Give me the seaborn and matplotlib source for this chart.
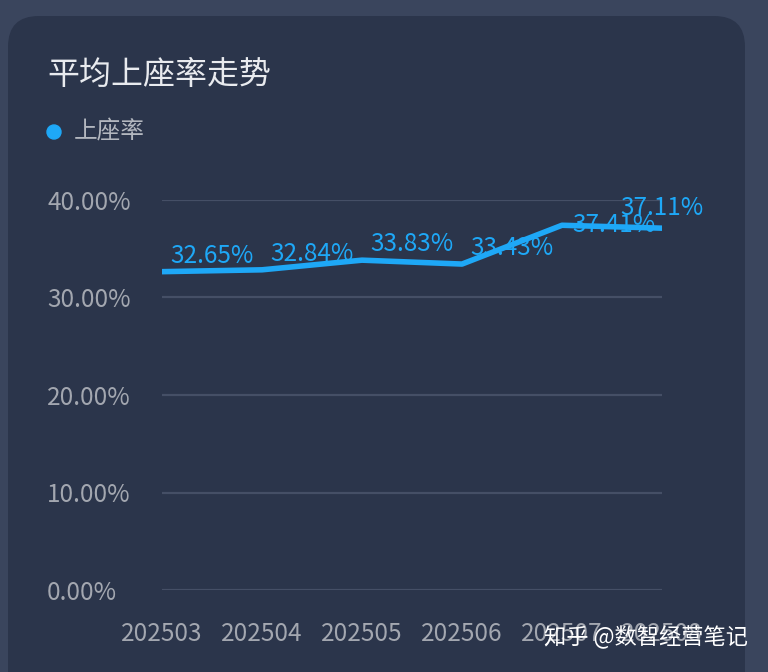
import matplotlib
matplotlib.use("Agg")
import matplotlib.pyplot as plt
from matplotlib.patches import FancyBboxPatch, Ellipse
import seaborn as sns
import pandas as pd

months = ["202503", "202504", "202505", "202506", "202507", "202508"]
occupancy = [32.65, 32.84, 33.83, 33.43, 37.41, 37.11]
y_ticks = [0, 10, 20, 30, 40]
y_tick_labels = ["0.00%", "10.00%", "20.00%", "30.00%", "40.00%"]
title = "平均上座率走势"
series_name = "上座率"
watermark = "知乎 @数智经营笔记"

# label offsets in pixels (dx, dy, ha)
label_offsets = [(8, 16, "left"), (8, 16, "left"), (8, 16, "left"),
                 (8, 16, "left"), (10, 0, "left"), (42, 20, "right")]

OUTER = "#3a455d"
CARD = "#2b354b"
GRID = "#454f66"
TICK = "#a3a7b0"
BLUE = "#1ea8f7"

sns.set_theme(style="white")
plt.rcParams["font.family"] = ["Noto Sans CJK SC", "DejaVu Sans"]

W, H = 768, 672
fig = plt.figure(figsize=(W / 100, H / 100), dpi=100, facecolor=OUTER)

card = FancyBboxPatch((8 / W, -40 / H), (745 - 8) / W, (672 + 40 - 16) / H,
                      boxstyle="round,pad=0,rounding_size=0.04",
                      transform=fig.transFigure, facecolor=CARD, edgecolor="none",
                      mutation_aspect=W / H, zorder=-5)
fig.patches.append(card)

ax = fig.add_axes([162 / W, 1 - 590 / H, 500 / W, 390 / H])
ax.set_facecolor("none")
ax.set_zorder(1)

df = pd.DataFrame({"month": months, "value": occupancy})
sns.lineplot(data=df, x="month", y="value", ax=ax, color=BLUE, linewidth=4,
             sort=False, zorder=5)

ax.set_xlim(0, len(months) - 1)
ax.set_ylim(0, 40)
ax.set_yticks(y_ticks)
ax.set_yticklabels(y_tick_labels)
ax.set_xticks(range(len(months)))
ax.set_xticklabels(months)
ax.set_xlabel("")
ax.set_ylabel("")
for s in ax.spines.values():
    s.set_visible(False)
ax.grid(axis="y", color=GRID, linewidth=1.6)
ax.grid(axis="x", visible=False)
ax.tick_params(axis="y", length=0, pad=82.8, labelsize=17.5, labelcolor=TICK)
ax.tick_params(axis="x", length=0, pad=22, labelsize=17.5, labelcolor=TICK)
for lab in ax.get_yticklabels():
    lab.set_horizontalalignment("left")

for i, (v, (dx, dy, ha)) in enumerate(zip(occupancy, label_offsets)):
    ax.annotate(f"{v:.2f}%", (i, v), xytext=(dx, dy), textcoords="offset pixels",
                ha=ha, va="center", color=BLUE, fontsize=17.5, zorder=3,
                annotation_clip=False)

fig.text(47 / W, 1 - 75 / H, title, color="#e9ebef", fontsize=23,
         ha="left", va="center")
fig.add_artist(Ellipse((54 / W, 1 - 132 / H), 14 / W, 14 / H,
                       transform=fig.transFigure, color=BLUE))
fig.text(74 / W, 1 - 132 / H, series_name, color="#b3b7bf", fontsize=17,
         ha="left", va="center")

fig.text(748 / W, 1 - 637 / H, watermark, color="white", fontsize=16,
         ha="right", va="center", zorder=10)

fig.savefig("out.png", dpi=100, facecolor=OUTER)
